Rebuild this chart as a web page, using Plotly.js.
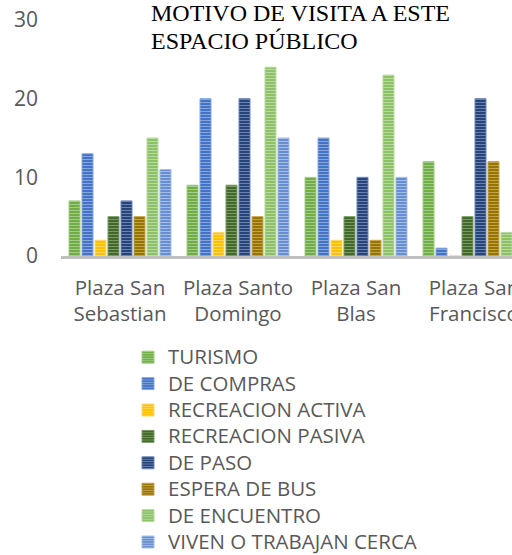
<!DOCTYPE html>
<html>
<head>
<meta charset="utf-8">
<script src="https://cdn.plot.ly/plotly-3.0.1.min.js"></script>
<style>
html,body{margin:0;padding:0;background:#fff;overflow:hidden;width:512px;height:555px;}
#chart{width:512px;height:555px;overflow:hidden;}
#chart .legendtext{font-size:20.5px !important;}
#chart .legend .scrollbox{clip-path:none !important;}
</style>
</head>
<body>
<div id="chart"></div>
<script>
const categories = ["Plaza San<br>Sebastian", "Plaza Santo<br>Domingo", "Plaza San<br>Blas", "Plaza San<br>Francisco"];
const seriesNames = ["TURISMO", "DE COMPRAS", "RECREACION ACTIVA", "RECREACION PASIVA", "DE PASO", "ESPERA DE BUS", "DE ENCUENTRO", "VIVEN O TRABAJAN CERCA"];
const turismo = [7, 9, 10, 12];
const deCompras = [13, 20, 15, 1];
const recreacionActiva = [2, 3, 2, 0];
const recreacionPasiva = [5, 9, 5, 5];
const dePaso = [7, 20, 10, 20];
const esperaDeBus = [5, 5, 2, 12];
const deEncuentro = [15, 24, 23, 3];
const vivenOTrabajanCerca = [11, 15, 10, 8];
const yTicks = [0, 10, 20, 30];
const titleLines = ["MOTIVO DE VISITA A ESTE", "ESPACIO PÚBLICO"];

const values = [turismo, deCompras, recreacionActiva, recreacionPasiva, dePaso, esperaDeBus, deEncuentro, vivenOTrabajanCerca];
const colors = ["#70AD47", "#4472C4", "#FFC000", "#43682B", "#264478", "#997300", "#8CC168", "#698ED0"];
const stripe = ["#A3CC87", "#86A6DE", "#FFD966", "#7A9A63", "#6A83B3", "#C2A44A", "#B8DA9E", "#A4BCE8"];

const traces = values.map((v, i) => ({
  type: "bar",
  name: seriesNames[i],
  x: categories,
  y: v,
  marker: {
    color: colors[i],
    line: {color: stripe[i], width: 1},
    pattern: {shape: "-", bgcolor: colors[i], fgcolor: stripe[i], fgopacity: 1, size: 3, solidity: 0.34}
  },
  hoverinfo: "none"
}));

const H = 575;
const plotTop = 20, plotBottom = 256, plotH = plotBottom - plotTop;
const titleCenters = [13.5, 40.5];
const layout = {
  width: 512,
  height: H,
  margin: {l: 61, r: 0, t: plotTop, b: H - plotBottom, pad: 0},
  paper_bgcolor: "#ffffff",
  plot_bgcolor: "#ffffff",
  barmode: "group",
  bargap: 0.119,
  bargroupgap: 0.154,
  showlegend: true,
  annotations: titleLines.map((t, i) => ({
    text: t,
    xref: "paper", yref: "paper",
    x: (149 - 61) / 451, xanchor: "left",
    y: (plotBottom - titleCenters[i]) / plotH, yanchor: "middle",
    align: "left",
    showarrow: false,
    font: {family: "Liberation Serif", size: 24, color: "#000000"}
  })),
  xaxis: {
    type: "category",
    range: [-0.5, (512 - 61) / 118 - 0.5],
    showgrid: false,
    zeroline: false,
    showline: true,
    linecolor: "#BFBFBF",
    linewidth: 3,
    ticks: "",
    ticklabelstandoff: 11,
    tickfont: {family: "Open Sans", size: 20.5, color: "#595959"},
    fixedrange: true
  },
  yaxis: {
    range: [0, 30],
    tickvals: yTicks,
    showgrid: false,
    zeroline: false,
    showline: false,
    ticks: "",
    ticklabelstandoff: 22,
    tickfont: {family: "Open Sans", size: 21, color: "#595959"},
    fixedrange: true
  },
  legend: {
    orientation: "v",
    x: (128 - 61) / 451,
    xanchor: "left",
    y: -(339 - 256) / 236,
    yanchor: "top",
    font: {family: "Open Sans", size: 18, color: "#595959"},
    itemclick: false,
    itemdoubleclick: false,
    tracegroupgap: 0,
    bgcolor: "rgba(0,0,0,0)"
  }
};

Plotly.newPlot("chart", traces, layout, {displayModeBar: false, staticPlot: true});
</script>
</body>
</html>
